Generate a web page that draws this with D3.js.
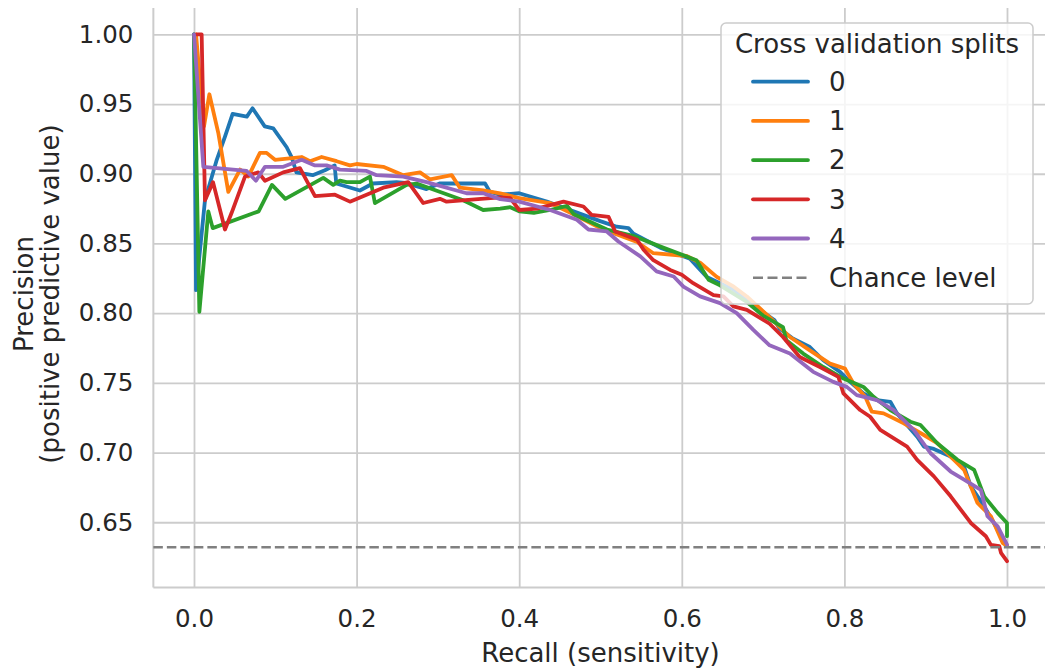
<!DOCTYPE html>
<html lang="en">
<head>
<meta charset="utf-8">
<title>Precision-recall curves</title>
<script src="https://d3js.org/d3.v7.min.js"></script>
<style>
  body { margin: 0; background: #fff; }
  text { font-family: "DejaVu Sans", sans-serif; fill: #262626; }
</style>
</head>
<body>
<div id="chart"></div>
<script>
// ---- data ----
const splitNames = ['0', '1', '2', '3', '4']
const splitColors = ['#1f77b4', '#ff7f0e', '#2ca02c', '#d62728', '#9467bd']

const split0 = [[0,1.0],[0.0025,0.8165],[0.0135,0.881],[0.028,0.91],[0.038,0.9265],[0.0475,0.943],[0.065,0.941],[0.072,0.947],[0.087,0.934],[0.0975,0.9325],[0.114,0.919],[0.12,0.912],[0.126,0.901],[0.146,0.899],[0.161,0.9025],[0.173,0.906],[0.175,0.893],[0.204,0.888],[0.22,0.893],[0.249,0.894],[0.26,0.8935],[0.286,0.889],[0.302,0.893],[0.358,0.893],[0.364,0.887],[0.3766,0.885],[0.4,0.886],[0.434,0.880],[0.4668,0.873],[0.4996,0.866],[0.52,0.862],[0.5344,0.861],[0.5406,0.857],[0.5734,0.847],[0.61,0.839],[0.6307,0.826],[0.647,0.8215],[0.6635,0.817],[0.6998,0.8007],[0.7142,0.7948],[0.7204,0.7888],[0.737,0.7817],[0.7575,0.7757],[0.774,0.7662],[0.7946,0.7579],[0.807,0.7507],[0.8235,0.7424],[0.84,0.7376],[0.8565,0.7364],[0.8647,0.7281],[0.8895,0.7114],[0.8977,0.7043],[0.91,0.7026],[0.9307,0.6971],[0.9472,0.69],[0.9555,0.6757],[0.972,0.6614],[0.9885,0.6448],[1.0,0.6329]]
const split1 = [[0.0025,1.0],[0.0123,0.934],[0.0189,0.957],[0.03,0.929],[0.0422,0.887],[0.0566,0.903],[0.0668,0.898],[0.0811,0.915],[0.0893,0.915],[0.0996,0.91],[0.1324,0.912],[0.1426,0.909],[0.157,0.912],[0.1754,0.909],[0.1918,0.906],[0.2,0.907],[0.2328,0.905],[0.2574,0.899],[0.278,0.901],[0.2902,0.896],[0.317,0.899],[0.327,0.89],[0.3557,0.888],[0.3766,0.886],[0.4,0.8825],[0.438,0.879],[0.463,0.872],[0.4996,0.861],[0.545,0.851],[0.565,0.843],[0.606,0.841],[0.623,0.836],[0.643,0.826],[0.664,0.819],[0.68,0.812],[0.708,0.7971],[0.733,0.7829],[0.7575,0.7733],[0.7823,0.7638],[0.8008,0.7602],[0.8111,0.7495],[0.8256,0.74],[0.8338,0.7293],[0.8482,0.7281],[0.873,0.721],[0.8977,0.7126],[0.9142,0.7067],[0.9307,0.6971],[0.9472,0.6876],[0.9637,0.6638],[0.9802,0.6543],[0.9947,0.6352],[1.0,0.6329]]
const split2 = [[0,1.0],[0.0066,0.801],[0.0176,0.873],[0.023,0.861],[0.0795,0.873],[0.0959,0.892],[0.1123,0.882],[0.159,0.897],[0.1713,0.892],[0.1795,0.895],[0.1877,0.894],[0.2041,0.894],[0.2164,0.898],[0.2225,0.879],[0.2615,0.892],[0.2738,0.893],[0.3311,0.881],[0.3557,0.874],[0.3766,0.875],[0.389,0.876],[0.4,0.873],[0.418,0.872],[0.438,0.874],[0.459,0.877],[0.467,0.871],[0.508,0.86],[0.54,0.8555],[0.577,0.847],[0.618,0.838],[0.633,0.824],[0.647,0.82],[0.68,0.808],[0.6998,0.7983],[0.7245,0.79],[0.7286,0.7805],[0.7493,0.771],[0.774,0.7614],[0.7988,0.7531],[0.8235,0.7471],[0.8359,0.74],[0.8565,0.7305],[0.8812,0.7221],[0.8936,0.7198],[0.9142,0.7067],[0.939,0.6948],[0.9596,0.6876],[0.972,0.6686],[0.9885,0.6567],[1.0,0.6495],[1.0,0.64]]
const split3 = [[0.003,1.0],[0.0094,1.0],[0.0135,0.881],[0.0234,0.894],[0.0381,0.86],[0.0463,0.872],[0.0627,0.898],[0.0791,0.901],[0.0873,0.895],[0.1098,0.901],[0.1303,0.904],[0.1488,0.884],[0.1734,0.885],[0.1918,0.88],[0.2328,0.89],[0.2635,0.894],[0.282,0.879],[0.3025,0.882],[0.3107,0.88],[0.3762,0.883],[0.389,0.8825],[0.4,0.874],[0.422,0.875],[0.4545,0.88],[0.479,0.8765],[0.489,0.8705],[0.51,0.869],[0.518,0.8586],[0.545,0.8526],[0.553,0.8455],[0.565,0.838],[0.5857,0.831],[0.6,0.8275],[0.614,0.8215],[0.639,0.813],[0.6512,0.812],[0.6635,0.8048],[0.68,0.8024],[0.708,0.7924],[0.7245,0.7829],[0.745,0.7686],[0.7699,0.7614],[0.7926,0.7543],[0.7988,0.7424],[0.8194,0.7305],[0.8317,0.7257],[0.8441,0.7162],[0.8771,0.7043],[0.8895,0.6948],[0.9101,0.6829],[0.9307,0.6686],[0.9555,0.6495],[0.974,0.64],[0.9802,0.6338],[0.9905,0.6329],[0.9926,0.6281],[1.0,0.6221]]
const split4 = [[0,1.0],[0.0115,0.905],[0.0648,0.902],[0.0762,0.895],[0.0873,0.905],[0.1098,0.905],[0.1324,0.91],[0.1488,0.906],[0.1631,0.906],[0.1795,0.903],[0.2123,0.902],[0.2246,0.899],[0.2574,0.898],[0.2861,0.894],[0.3352,0.886],[0.3557,0.886],[0.3766,0.8818],[0.4,0.88],[0.438,0.874],[0.471,0.867],[0.4852,0.86],[0.5078,0.8586],[0.522,0.8514],[0.549,0.8407],[0.569,0.83],[0.59,0.8263],[0.602,0.819],[0.6225,0.812],[0.647,0.8072],[0.6676,0.8],[0.688,0.788],[0.708,0.7769],[0.733,0.771],[0.7616,0.7579],[0.7864,0.7507],[0.8029,0.7471],[0.8152,0.7412],[0.84,0.7376],[0.8606,0.7305],[0.8853,0.7162],[0.906,0.6995],[0.9307,0.6864],[0.9472,0.6805],[0.9678,0.6733],[0.976,0.6543],[0.9885,0.6471],[1.0,0.634]]
const splits = [split0, split1, split2, split3, split4]

const chanceLevel = 0.632
const xTicks = [0, 0.2, 0.4, 0.6, 0.8, 1.0]
const yTicks = [0.65, 0.70, 0.75, 0.80, 0.85, 0.90, 0.95, 1.00]

// ---- layout ----
const width = 1045
const height = 670
const plotLeft = 153.35, plotRight = 1047.65, plotTop = 8, plotBottom = 587.5

const svg = d3.select('#chart').append('svg')
    .attr('width', width)
    .attr('height', height)

const xScale = d3.scaleLinear().domain([-0.05, 1.05]).range([plotLeft, plotRight])
const yScale = d3.scaleLinear().domain([0.6032, 1.0189]).range([plotBottom, plotTop])

// axes + grid
const xAxis = d3.axisBottom(xScale)
    .tickValues(xTicks)
    .tickFormat(d3.format('.1f'))
    .tickSize(-(plotBottom - plotTop))
    .tickPadding(22)
const yAxis = d3.axisLeft(yScale)
    .tickValues(yTicks)
    .tickFormat(d3.format('.2f'))
    .tickSize(-(plotRight - plotLeft))
    .tickPadding(20)

const gx = svg.append('g')
    .attr('transform', `translate(0, ${plotBottom})`)
    .call(xAxis)
const gy = svg.append('g')
    .attr('transform', `translate(${plotLeft}, 0)`)
    .call(yAxis)

for (const g of [gx, gy]) {
    g.selectAll('.tick line').attr('stroke', '#cccccc').attr('stroke-width', 1.8)
    g.selectAll('.tick text').style('font-size', '24.5px').attr('fill', '#262626')
    g.select('.domain').attr('stroke', '#cccccc').attr('stroke-width', 2)
}
// only left and bottom spines
gx.select('.domain').attr('d', `M${plotLeft},0H${plotRight}`)
gy.select('.domain').attr('d', `M0,${plotTop}V${plotBottom}`)

// axis titles
svg.append('text')
    .attr('x', (plotLeft + plotRight) / 2)
    .attr('y', 662)
    .attr('text-anchor', 'middle')
    .style('font-size', '26px')
    .text('Recall (sensitivity)')

const ylab = svg.append('text')
    .attr('transform', 'translate(33, 294) rotate(-90)')
    .attr('text-anchor', 'middle')
    .style('font-size', '26px')
ylab.append('tspan').attr('x', 0).attr('y', 0).text('Precision')
ylab.append('tspan').attr('x', 0).attr('y', 26).text('(positive predictive value)')

// curves
const line = d3.line()
    .x(d => xScale(d[0]))
    .y(d => yScale(d[1]))

svg.append('g')
    .selectAll('path')
    .data(splits)
    .join('path')
    .attr('d', line)
    .attr('fill', 'none')
    .attr('stroke', (d, i) => splitColors[i])
    .attr('stroke-width', 3.8)
    .attr('stroke-linejoin', 'round')
    .attr('stroke-linecap', 'round')

// chance level
svg.append('line')
    .attr('x1', plotLeft).attr('x2', plotRight)
    .attr('y1', yScale(chanceLevel)).attr('y2', yScale(chanceLevel))
    .attr('stroke', '#808080')
    .attr('stroke-width', 2.5)
    .attr('stroke-dasharray', '9.5,4')

// legend
const legend = svg.append('g')
legend.append('rect')
    .attr('x', 721).attr('y', 23)
    .attr('width', 312).attr('height', 281)
    .attr('rx', 5)
    .attr('fill', 'white').attr('fill-opacity', 0.8)
    .attr('stroke', '#cccccc').attr('stroke-width', 1.5)
legend.append('text')
    .attr('x', 877).attr('y', 53)
    .attr('text-anchor', 'middle')
    .style('font-size', '26px')
    .text('Cross validation splits')

const legendItems = splitNames.map((n, i) => ({ label: n, color: splitColors[i], dash: null }))
legendItems.push({ label: 'Chance level', color: '#808080', dash: '10,4.5' })

const rows = legend.selectAll('g.row')
    .data(legendItems)
    .join('g')
    .attr('class', 'row')
    .attr('transform', (d, i) => `translate(0, ${81.7 + i * 39.2})`)
rows.append('line')
    .attr('x1', 753).attr('x2', 808)
    .attr('stroke', d => d.color)
    .attr('stroke-width', d => d.dash ? 2.5 : 3.8)
    .attr('stroke-dasharray', d => d.dash)
    .attr('stroke-linecap', d => d.dash ? 'butt' : 'round')
rows.append('text')
    .attr('x', 829).attr('dy', '0.36em')
    .style('font-size', '26px')
    .text(d => d.label)
</script>
</body>
</html>
